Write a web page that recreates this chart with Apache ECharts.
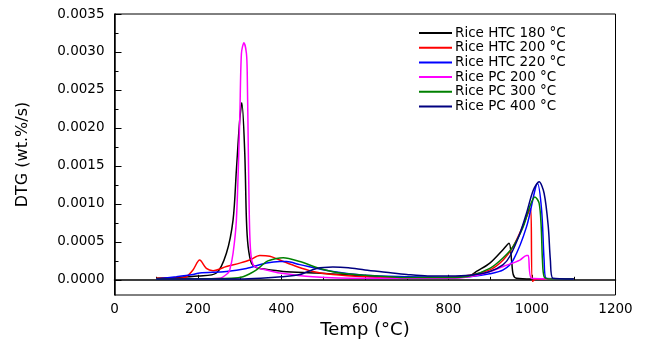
<!DOCTYPE html>
<html><head><meta charset="utf-8">
<script src="https://cdn.jsdelivr.net/npm/echarts@6/dist/echarts.min.js"></script>
<style>html,body{margin:0;padding:0;background:#fff}#c{width:647px;height:339px}</style>
</head><body><div id="c"></div>
<script>
const seriesNames = ["Rice HTC 180 °C","Rice HTC 200 °C","Rice HTC 220 °C","Rice PC 200 °C","Rice PC 300 °C","Rice PC 400 °C"];
const seriesColors = ["#000000","#ff0000","#0000ff","#ff00ff","#008000","#000080"];
const yTickValues = [0,0.0005,0.0010,0.0015,0.0020,0.0025,0.0030,0.0035];
const yMinorTickValues = [0.00025,0.00075,0.00125,0.00175,0.00225,0.00275,0.00325];

const htc180 = [[100,0.00002],[150,0.00003],[200,0.00005],[244,0.00009],[268,0.00035],[284,0.00079],[292,0.00145],[300,0.00211],[305,0.00233],[312,0.00167],[316,0.00079],[320,0.00044],[328,0.00022],[340,0.00016],[348,0.00015],[404,0.00011],[484,0.00009],[600,0.00005],[700,0.00003],[800,0.00003],[851,0.00005],[867,0.00011],[899,0.00022],[931,0.00040],[945,0.00048],[951,0.00026],[955,0.00007],[963,0.00002],[1000,0.00001]];
const htc200 = [[100,0.00002],[155,0.00002],[172,0.00004],[188,0.00013],[204,0.00026],[220,0.00015],[236,0.00012],[268,0.000175],[300,0.00022],[324,0.00026],[348,0.00032],[372,0.00031],[396,0.00026],[436,0.000175],[475,0.00011],[523,0.00007],[600,0.00004],[700,0.00002],[800,0.00003],[850,0.00006],[899,0.00013],[931,0.00026],[955,0.00044],[979,0.00072],[991,0.00088],[997,0.00094],[1001,-0.00002],[1010,0.00001],[1100,0.00001]];
const htc220 = [[100,0.00001],[148,0.00004],[188,0.00007],[204,0.00009],[268,0.00011],[316,0.00015],[364,0.00022],[396,0.00024],[412,0.00024],[444,0.00020],[523,0.00011],[600,0.00006],[700,0.00004],[800,0.00003],[850,0.00004],[899,0.00008],[931,0.00013],[955,0.00026],[987,0.00070],[1007,0.00118],[1013,0.00127],[1023,0.00092],[1029,0.00026],[1034,0.00002],[1100,0.00001]];
const pc200 = [[100,0.000013],[200,0.00001],[252,0.00002],[270,0.00008],[276,0.00013],[284,0.00035],[292,0.00079],[300,0.00211],[304,0.00298],[310,0.00312],[316,0.00298],[318,0.0027],[321,0.0015],[324,0.0006],[328,0.00028],[336,0.000175],[364,0.00013],[396,0.00009],[475,0.00004],[600,0.00002],[700,0.00002],[800,0.00002],[850,0.00004],[900,0.00011],[931,0.000175],[971,0.00026],[987,0.00032],[991,0.00032],[999,0.00002],[1100,0.00001]];
const pc300 = [[100,0.00001],[280,0.00002],[308,0.00004],[340,0.00013],[364,0.00024],[388,0.00028],[404,0.00029],[444,0.00024],[492,0.00015],[540,0.00009],[600,0.00006],[700,0.00003],[800,0.00003],[850,0.00005],[899,0.00015],[931,0.00029],[955,0.00044],[979,0.00070],[995,0.00097],[1007,0.00109],[1017,0.00101],[1022,0.00070],[1025,0.00026],[1029,0.00004],[1040,0.00001],[1100,0.00001]];
const pc400 = [[100,0.00001],[300,0.00001],[350,0.00002],[400,0.00004],[444,0.00007],[484,0.00015],[523,0.00017],[560,0.00016],[600,0.00013],[650,0.00010],[700,0.00007],[750,0.00005],[800,0.00005],[851,0.00006],[899,0.00011],[931,0.00020],[947,0.00031],[971,0.00061],[987,0.00088],[1003,0.00118],[1017,0.00129],[1029,0.00114],[1039,0.00070],[1044,0.00026],[1050,0.00002],[1100,0.00001]];
const allData = [htc180, htc200, htc220, pc200, pc300, pc400];

const chart = echarts.init(document.getElementById('c'), null, {renderer:'canvas'});
const font = '"DejaVu Sans", sans-serif';
chart.setOption({
  animation:false,
  textStyle:{fontFamily:font},
  grid:{left:114.5, right:31.5, top:14, bottom:44, show:true, borderColor:'#000', borderWidth:1, containLabel:false, outerBoundsMode:'none'},
  legend:{
    data:seriesNames, orient:'vertical', left:414, top:21,
    itemWidth:33, itemHeight:2, itemGap:0.7, icon:'rect',
    textStyle:{fontSize:13.5, color:'#000', fontFamily:font, padding:[0,0,0,-2]}
  },
  xAxis:{
    type:'value', min:0, max:1200, interval:200,
    name:'Temp (°C)', nameLocation:'middle', nameGap:24,
    nameTextStyle:{fontSize:18, color:'#000', fontFamily:font},
    axisLine:{show:true, lineStyle:{color:'#000', width:1.5}},
    axisTick:{inside:true, length:5, lineStyle:{color:'#000'}},
    minorTick:{show:true, splitNumber:2, length:3, lineStyle:{color:'#000'}},
    axisLabel:{fontSize:13.5, color:'#000', margin:7, fontFamily:font, formatter:v=>String(v)},
    splitLine:{show:false}
  },
  yAxis:[{
    type:'value', min:-0.0002, max:0.0035,
    name:'DTG (wt.%/s)', nameLocation:'middle', nameGap:84, nameRotate:90,
    nameTextStyle:{fontSize:16, color:'#000', fontFamily:font},
    axisLine:{show:true, lineStyle:{color:'#000', width:1.5}},
    axisTick:{inside:true, length:7, customValues:yTickValues, lineStyle:{color:'#000'}},
    axisLabel:{fontSize:13.5, color:'#000', margin:10, fontFamily:font, customValues:yTickValues, formatter:v=>v.toFixed(4)},
    splitLine:{show:false}
  },{
    type:'value', min:-0.0002, max:0.0035, position:'left',
    axisLine:{show:false},
    axisTick:{show:true, inside:true, length:4, customValues:yMinorTickValues, lineStyle:{color:'#000'}},
    axisLabel:{show:false, customValues:yMinorTickValues},
    splitLine:{show:false}
  }],
  series: allData.map((d,i)=>({
    name:seriesNames[i], type:'line', data:d, showSymbol:false, smooth:0.3,
    color:seriesColors[i], lineStyle:{width:1.5, color:seriesColors[i]}, yAxisIndex:0
  }))
});
</script></body></html>
